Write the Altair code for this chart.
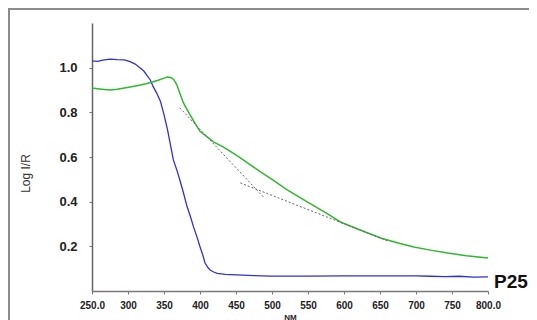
import altair as alt
import pandas as pd

# Blue curve (nm, Log I/R)
blue_nm = [250, 258, 265, 275, 285, 295, 303, 310, 317, 322, 326, 331, 335, 340, 345, 350, 355, 363, 368,
           372, 377, 382, 387, 391, 396, 400, 404, 407, 411, 414, 419, 424, 435, 451, 475, 498, 550, 600,
           650, 700, 720, 740, 760, 780, 800]
blue_val = [1.030, 1.028, 1.034, 1.038, 1.036, 1.035, 1.027, 1.016, 0.999, 0.985, 0.967, 0.945, 0.915, 0.885,
            0.850, 0.790, 0.720, 0.587, 0.540, 0.497, 0.440, 0.378, 0.330, 0.287, 0.240, 0.198, 0.160, 0.125,
            0.105, 0.094, 0.085, 0.079, 0.074, 0.072, 0.069, 0.067, 0.067, 0.068, 0.068, 0.068, 0.066, 0.064,
            0.066, 0.062, 0.063]

# Green curve
green_nm = [250, 260, 275, 285, 293, 305, 317, 325, 335, 342, 349, 355, 360, 364, 368, 372, 377, 385, 393,
            400, 410, 420, 432, 445, 456, 470, 484, 500, 520, 549, 575, 595, 625, 651, 675, 697, 720, 744,
            770, 800]
green_val = [0.909, 0.905, 0.900, 0.903, 0.908, 0.915, 0.922, 0.928, 0.937, 0.944, 0.952, 0.958, 0.955, 0.945,
             0.922, 0.885, 0.842, 0.795, 0.752, 0.715, 0.690, 0.665, 0.645, 0.620, 0.596, 0.565, 0.533, 0.500,
             0.455, 0.399, 0.350, 0.309, 0.270, 0.237, 0.215, 0.197, 0.183, 0.170, 0.158, 0.148]

# Dotted tangent lines
tan1_nm = [372, 488]
tan1_val = [0.82, 0.421]
tan2_nm = [456, 660]
tan2_val = [0.484, 0.225]

x_ticks = [250, 300, 350, 400, 450, 500, 550, 600, 650, 700, 750, 800]
y_ticks = [0.2, 0.4, 0.6, 0.8, 1.0]
label_text = ["P25"]
label_nm = [800]
label_val = [0.04]

df = pd.concat([
    pd.DataFrame({"nm": blue_nm, "v": blue_val, "s": "blue"}),
    pd.DataFrame({"nm": green_nm, "v": green_val, "s": "green"}),
    pd.DataFrame({"nm": tan1_nm, "v": tan1_val, "s": "t1"}),
    pd.DataFrame({"nm": tan2_nm, "v": tan2_val, "s": "t2"}),
])
lbl_df = pd.DataFrame({"nm": label_nm, "v": label_val, "t": label_text})

xs = alt.Scale(domain=[250, 800], nice=False, zero=False)
ys = alt.Scale(domain=[0, 1.2], nice=False)

x_axis = alt.Axis(
    values=x_ticks, title="NM",
    labelExpr="datum.value == 250 || datum.value == 800 ? format(datum.value, '.1f') : format(datum.value, 'd')",
    labelFont="Liberation Sans", labelFontSize=10, labelFontWeight="bold", labelColor="#222",
    labelPadding=6, tickSize=3, tickColor="#777", domainColor="#777", domainWidth=1.5,
    titleFont="Liberation Sans", titleFontSize=8, titleFontWeight="bold", titleColor="#222",
    titleY=22, titleBaseline="top", grid=False, labelFlush=False, labelOverlap=False,
    labelSeparation=0, labelBound=False)
y_axis = alt.Axis(
    values=y_ticks, title="Log I/R", format=".1f",
    labelFont="Liberation Sans", labelFontSize=13, labelFontWeight="bold", labelColor="#222",
    labelPadding=12, tickSize=3, tickColor="#777", domainColor="#666", domainWidth=1.5,
    titleFont="Liberation Sans", titleFontSize=12, titleFontWeight="normal", titleColor="#333",
    titleAngle=270, titleX=-67, titleY=150, titleAlign="center", titleBaseline="middle", grid=False,
    labelOverlap=False)

X = alt.X("nm:Q", scale=xs, axis=x_axis)
Y = alt.Y("v:Q", scale=ys, axis=y_axis)

base = alt.Chart(df)

frame = alt.Chart(pd.DataFrame({"a": [0]})).mark_rect(
    fill="transparent", stroke="#8c8c8c", strokeWidth=2).encode(
    x=alt.value(-83), x2=alt.value(470), y=alt.value(-14), y2=alt.value(320))

blue = base.transform_filter("datum.s == 'blue'").mark_line(color="#3030d8", strokeWidth=1.3).encode(x=X, y=Y)
green = base.transform_filter("datum.s == 'green'").mark_line(color="#2fb82f", strokeWidth=1.5).encode(x=X, y=Y)
t1 = base.transform_filter("datum.s == 't1'").mark_line(color="#666", strokeWidth=1, strokeDash=[2, 2]).encode(x=X, y=Y)
t2 = base.transform_filter("datum.s == 't2'").mark_line(color="#666", strokeWidth=1, strokeDash=[2, 2]).encode(x=X, y=Y)

lbl = alt.Chart(lbl_df).mark_text(
    font="Liberation Sans", fontSize=19, fontWeight="bold", color="#111", align="left", baseline="middle", dx=6
).encode(x=X, y=Y, text="t:N")

chart = alt.layer(frame, blue, green, t1, t2, lbl).properties(
    width=396, height=268,
    autosize=alt.AutoSizeParams(type="none"),
    padding={"left": 84, "top": 15, "right": 41, "bottom": 29},
).configure_view(stroke=None)

chart.save("out.html", embed_options={"renderer": "svg", "actions": False})
